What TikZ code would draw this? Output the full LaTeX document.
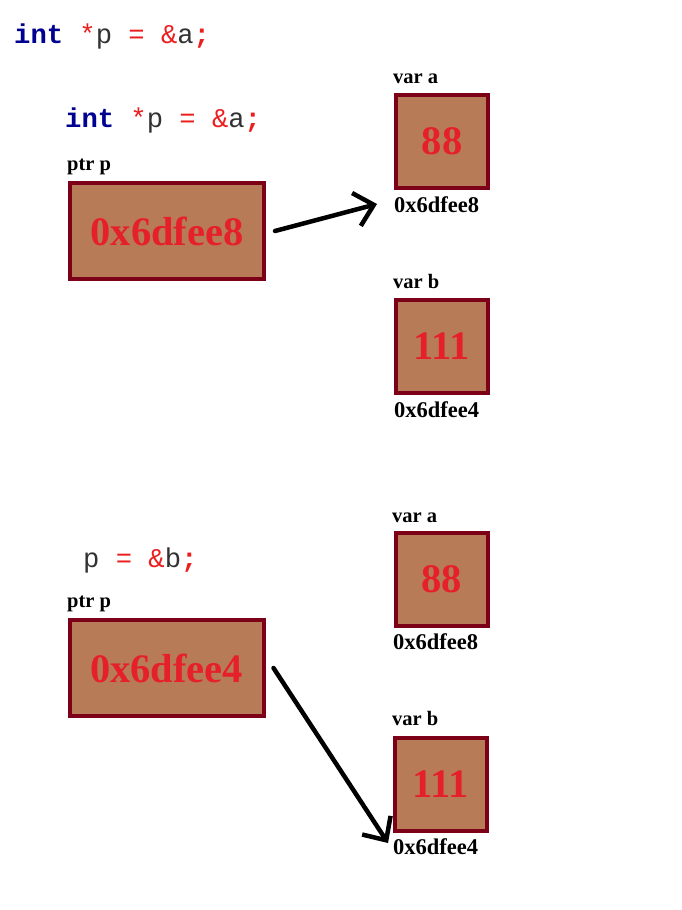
\documentclass[tikz,border=0pt]{standalone}
\usepackage{fontspec}
\setmainfont{Liberation Serif}
\newfontfamily\codefont{Liberation Mono}
\usetikzlibrary{arrows.meta}
\definecolor{boxfill}{RGB}{184,123,88}
\definecolor{boxline}{RGB}{125,0,25}
\definecolor{valred}{RGB}{230,32,40}
\definecolor{kwblue}{RGB}{0,0,145}
\definecolor{codered}{RGB}{235,30,30}
\definecolor{codegray}{RGB}{50,50,50}
\begin{document}
\begin{tikzpicture}[x=1pt,y=-1pt,
  membox/.style={draw=boxline, fill=boxfill, line width=4pt, inner sep=0pt, font=\fontsize{40.5}{41}\selectfont\bfseries, text=valred},
  ptrbox/.style={membox, minimum width=194pt, minimum height=96pt},
  varbox/.style={membox, minimum width=92pt, minimum height=93pt},
  lbl/.style={anchor=base west, inner sep=0pt, font=\fontsize{20.5}{21}\selectfont\bfseries},
  addr/.style={anchor=base west, inner sep=0pt, font=\fontsize{22.5}{23}\selectfont\bfseries},
  code/.style={anchor=base west, inner sep=0pt, font=\codefont\fontsize{27.2}{28}\selectfont, text=codegray},
  ptrarrow/.style={line width=4.5pt, line cap=round, -{Straight Barb[length=18pt,width=34pt,line width=4.5pt]}}
]
\useasboundingbox (0,0) rectangle (681,910);

% code lines
\node[code] (c1) at (14,43) {\textcolor{kwblue}{\bfseries int} \textcolor{codered}{*}p \textcolor{codered}{=} \textcolor{codered}{\&}a\textcolor{codered}{\bfseries ;}};
\node[code] (c2) at (65,127) {\textcolor{kwblue}{\bfseries int} \textcolor{codered}{*}p \textcolor{codered}{=} \textcolor{codered}{\&}a\textcolor{codered}{\bfseries ;}};
\node[code] (c3) at (83,567) {p \textcolor{codered}{=} \textcolor{codered}{\&}b\textcolor{codered}{\bfseries ;}};

% top scene
\node[ptrbox] (p1) at (167,231) {0x6dfee8};
\node[lbl] (p1l) at (67,170) {ptr p};
\node[varbox] (a1) at (442,141.5) {88};
\node[lbl] (a1l) at (393,83) {var a};
\node[addr] (a1d) at (394,212) {0x6dfee8};
\node[varbox] (b1) at (442,346.5) {111};
\node[lbl] (b1l) at (393,288) {var b};
\node[addr] (b1d) at (394,417) {0x6dfee4};
\coordinate (t1) at (377,204);
\draw[ptrarrow] ([xshift=9pt]p1.east) -- (t1);

% bottom scene
\node[ptrbox] (p2) at (166.5,668) {0x6dfee4};
\node[lbl] (p2l) at (67,607) {ptr p};
\node[varbox] (a2) at (441.5,579.5) {88};
\node[lbl] (a2l) at (392,522) {var a};
\node[addr] (a2d) at (393,649) {0x6dfee8};
\node[varbox] (b2) at (441,784) {111};
\node[lbl] (b2l) at (392,725) {var b};
\node[addr] (b2d) at (393,854) {0x6dfee4};
\coordinate (t2) at (388,843);
\draw[ptrarrow] ([xshift=8pt]p2.east) -- (t2);
\end{tikzpicture}
\end{document}
